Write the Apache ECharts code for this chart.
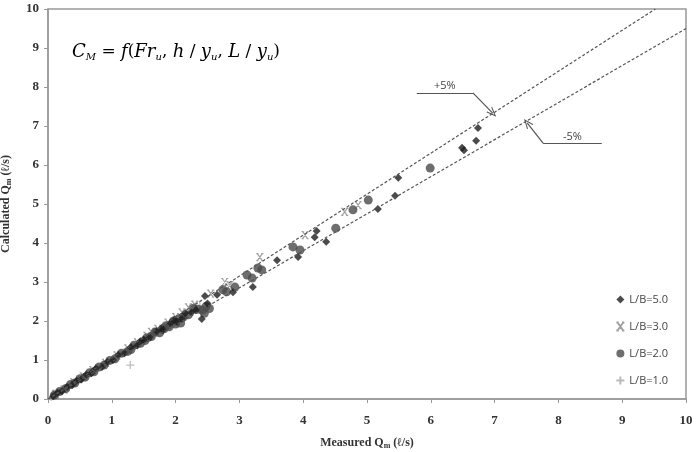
<!DOCTYPE html>
<html>
<head>
<meta charset="utf-8">
<script src="https://cdn.jsdelivr.net/npm/echarts@6/dist/echarts.min.js"></script>
<style>
  html, body { margin: 0; padding: 0; background: #fff; }
  #chart { width: 697px; height: 452px; }
</style>
</head>
<body>
<div id="chart"></div>
<script>
// measured vs calculated discharge, l/s
const lb50 = [
  [0.08,0.07],[0.15,0.16],[0.22,0.2],[0.3,0.31],[0.38,0.36],[0.45,0.47],[0.52,0.5],[0.6,0.62],
  [0.68,0.66],[0.75,0.78],[0.85,0.83],[0.93,0.95],[1.02,1.0],[1.1,1.13],[1.2,1.17],[1.3,1.33],
  [1.4,1.37],[1.5,1.52],[1.6,1.58],[1.7,1.74],[1.8,1.76],[1.92,1.95],[2.02,1.98],[2.15,2.2],
  [2.25,2.22],[2.41,2.05],[2.46,2.64],[2.5,2.45],[2.65,2.67],[2.9,2.74],[3.21,2.87],[3.59,3.56],
  [3.92,3.64],[4.18,4.15],[4.21,4.31],[4.36,4.03],[5.17,4.87],[5.44,5.21],[5.49,5.67],
  [6.49,6.44],[6.52,6.38],[6.71,6.62],[6.74,6.95],
  [1.45,1.48],[1.78,1.82],[1.98,2.03],[2.1,2.06],[2.32,2.28]
]
const lb30 = [
  [0.12,0.13],[0.25,0.24],[0.4,0.43],[0.55,0.58],[0.7,0.74],[0.9,0.93],[1.08,1.12],[1.25,1.3],
  [1.4,1.45],[1.55,1.62],[1.72,1.8],[1.88,1.96],[2.0,2.1],[2.2,2.35],[2.3,2.42],[2.55,2.7],
  [2.77,3.0],[2.85,2.92],[3.32,3.64],[4.03,4.2],[4.65,4.8],[4.86,4.97],
  [1.62,1.72],[2.1,2.22]
]
const lb20 = [
  [0.1,0.1],[0.18,0.19],[0.28,0.27],[0.35,0.37],[0.42,0.41],[0.5,0.52],[0.58,0.56],[0.65,0.67],
  [0.72,0.7],[0.8,0.82],[0.88,0.87],[0.97,0.99],[1.05,1.03],[1.15,1.17],[1.25,1.22],[1.35,1.38],
  [1.45,1.43],[1.55,1.57],[1.62,1.6],[1.68,1.72],[1.75,1.7],[1.85,1.88],[1.9,1.85],[1.97,2.0],
  [2.05,2.05],[2.08,1.95],[2.12,2.1],[2.35,2.3],[2.42,2.28],[2.45,2.2],[2.53,2.32],[2.74,2.8],
  [2.8,2.75],[2.93,2.87],[3.12,3.18],[3.2,3.1],[3.29,3.36],[3.35,3.31],[3.84,3.9],[3.95,3.82],
  [4.51,4.38],[4.78,4.85],[5.02,5.1],[5.99,5.92],
  [1.3,1.27],[1.52,1.5],[1.82,1.8],[2.0,1.92],[2.2,2.16],[2.28,2.33],[2.48,2.38]
]
const lb10 = [
  [0.05,0.05],[0.2,0.22],[0.33,0.32],[0.48,0.49],[0.62,0.6],[0.78,0.8],[0.95,0.92],[1.12,1.1],
  [1.29,0.87],[1.32,1.35],[1.48,1.5],[1.65,1.68],[1.82,1.84],[2.0,2.02],[2.18,2.15],[2.38,2.4]
]
// +/-5% envelope
const plus5 = [[0, 0], [9.52, 10]]
const minus5 = [[0, 0], [10, 9.5]]
// callout polylines (label, elbow, arrow tip) in data units
const plusCallout = [[5.78, 7.85], [6.66, 7.85], [6.97, 7.33]]
const minusCallout = [[8.68, 6.56], [7.76, 6.56], [7.51, 7.08]]

const chart = echarts.init(document.getElementById('chart'))

const serif = 'Liberation Serif'
const sans = 'Open Sans'
const xSym = 'path://M0,0 L3,0 M7,0 L10,0 M0,10 L3,10 M7,10 L10,10 M1.5,0 L8.5,10 M8.5,0 L1.5,10'
const plusSym = 'path://M5,0 L5,10 M0,5 L10,5'
const openArrow = 'path://M0,10 L5,0 L10,10 L8.6,10 L5,2.6 L1.4,10 Z'

const callout = (pts, text) => ({
  silent: true,
  symbol: ['none', 'none'],
  lineStyle: { color: '#555', width: 1.2, type: 'solid' },
  label: { show: false },
  data: [
    [{ coord: pts[0], label: { show: true, formatter: text, position: 'insideMiddleTop', distance: 1, color: '#444', fontFamily: sans, fontSize: 11 } }, { coord: pts[1] }],
    [{ coord: pts[1] }, { coord: pts[2], symbol: openArrow, symbolSize: [8, 10] }]
  ]
})

const nameRich = {
  a: { fontFamily: serif, fontWeight: 'bold', fontSize: 12, color: '#333' },
  s: { fontFamily: serif, fontWeight: 'bold', fontSize: 8, color: '#333', padding: [6, 0, 0, 0] }
}

chart.setOption({
  animation: false,
  backgroundColor: '#fff',
  grid: {
    left: 48, right: 11, top: 9, bottom: 53, outerBoundsMode: 'none',
    show: true, borderColor: '#999', borderWidth: 1.5
  },
  xAxis: {
    type: 'value', min: 0, max: 10, interval: 1,
    name: '{a|Measured Q}{s|m}{a| (ℓ/s)}', nameLocation: 'middle', nameGap: 37,
    nameTextStyle: { rich: nameRich },
    axisLine: { lineStyle: { color: '#999', width: 1.5 } },
    axisTick: { show: true, length: 4, lineStyle: { color: '#999' } },
    axisLabel: { margin: 15, fontFamily: serif, fontWeight: 'bold', fontSize: 13, color: '#333' },
    splitLine: { show: false }
  },
  yAxis: {
    type: 'value', min: 0, max: 10, interval: 1,
    name: '{a|Calculated Q}{s|m}{a| (ℓ/s)}', nameLocation: 'middle', nameGap: 35, nameRotate: 90,
    nameTextStyle: { rich: nameRich },
    axisLine: { show: true, lineStyle: { color: '#999', width: 1.5 } },
    axisTick: { show: true, length: 4, lineStyle: { color: '#999' } },
    axisLabel: { margin: 9, fontFamily: serif, fontWeight: 'bold', fontSize: 13, color: '#333' },
    splitLine: { show: false }
  },
  legend: {
    orient: 'vertical', right: 24, top: 289, itemGap: 15,
    itemWidth: 8, itemHeight: 8,
    textStyle: { fontFamily: sans, fontSize: 11, color: '#444' },
    data: ['L/B=5.0', 'L/B=3.0', 'L/B=2.0', 'L/B=1.0']
  },
  graphic: [{
    type: 'text', left: 72, top: 43,
    style: {
      text: '{i|C}{s|M}{r| = }{i|f}{r|(}{i|Fr}{s|u}{r|, }{i|h}{r| / }{i|y}{s|u}{r|, }{i|L}{r| / }{i|y}{s|u}{r|)}',
      rich: {
        i: { fontFamily: 'DejaVu Serif', fontStyle: 'italic', fontSize: 18, color: '#333' },
        r: { fontFamily: 'DejaVu Serif', fontSize: 17, color: '#333' },
        s: { fontFamily: 'DejaVu Serif', fontStyle: 'italic', fontSize: 10, color: '#333', padding: [10, 0, 0, 0] }
      }
    }
  }],
  series: [
    {
      name: '+5%', type: 'line', data: plus5, symbol: 'none', silent: true,
      lineStyle: { color: '#555', width: 1.2, type: [3, 2] },
      markLine: callout(plusCallout, '+5%')
    },
    {
      name: '-5%', type: 'line', data: minus5, symbol: 'none', silent: true,
      lineStyle: { color: '#555', width: 1.2, type: [3, 2] },
      markLine: callout(minusCallout, '-5%')
    },
    { name: 'L/B=1.0', type: 'scatter', data: lb10, symbol: plusSym, symbolSize: 8,
      itemStyle: { color: 'none', borderColor: '#aaa', borderWidth: 1.2 } },
    { name: 'L/B=3.0', type: 'scatter', data: lb30, symbol: xSym, symbolSize: 7,
      itemStyle: { color: 'none', borderColor: '#888', borderWidth: 1.2 } },
    { name: 'L/B=2.0', type: 'scatter', data: lb20, symbol: 'circle', symbolSize: 9,
      itemStyle: { color: '#4a4a4a' } },
    { name: 'L/B=5.0', type: 'scatter', data: lb50, symbol: 'diamond', symbolSize: 8,
      itemStyle: { color: '#1e1e1e' } }
  ]
})
</script>
</body>
</html>
